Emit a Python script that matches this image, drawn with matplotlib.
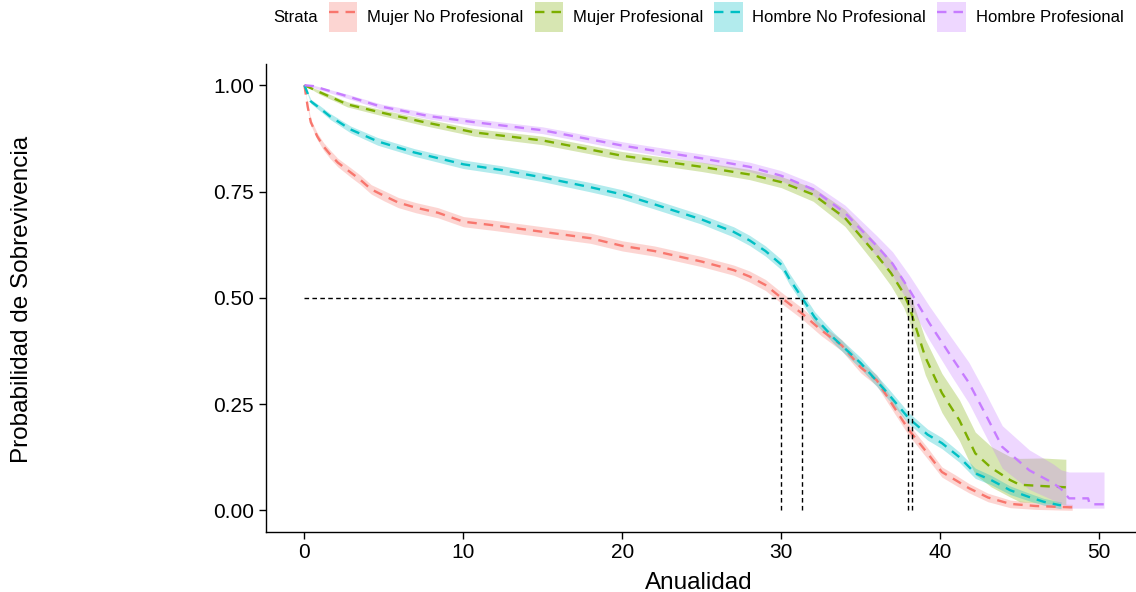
import numpy as np
import matplotlib
matplotlib.use("Agg")
import matplotlib.pyplot as plt
from matplotlib.patches import Patch
from matplotlib.lines import Line2D

plt.rcParams['font.family'] = ['Liberation Sans', 'DejaVu Sans']

labels = ['Mujer No Profesional', 'Mujer Profesional', 'Hombre No Profesional', 'Hombre Profesional']
colors = ['#F8766D', '#7CAE00', '#00BFC4', '#C77CFF']

# Mujer No Profesional
t_mnp = [0, 0.2, 0.4, 0.8, 1.2, 1.6, 2.1, 2.9, 3.5, 4.2, 5.0, 5.9, 7.0, 8.4, 10, 12, 15, 18, 20, 22,
         25, 27, 28, 29, 30, 31.3, 32.5, 33.8, 35, 36, 37.1, 38, 39.2, 40.1, 41, 41.8, 43, 44.4, 46, 48.1, 48.3]
s_mnp = [1.0, .95, .913, .88, .856, .838, .818, .795, .778, .755, .74, .724, .712, .70, .679, .67, .655, .64, .622, .61,
         .585, .565, .55, .53, .5, .463, .424, .388, .336, .306, .242, .19, .134, .09, .07, .052, .03, .015, .01, .007, .007]
e_mnp = [0, .005, .007, .008, .009, .01, .01, .011, .011, .011, .012, .012, .012, .012, .012, .012, .012, .012, .012, .012,
         .012, .012, .013, .013, .013, .013, .013, .013, .013, .013, .013, .013, .013, .012, .012, .011, .01, .009, .008, .007, .007]

# Mujer Profesional
t_mp = [0, 1.0, 2.7, 4.8, 7.3, 10.7, 15, 20, 25, 28, 30, 32, 34, 35.9, 36.9, 37.7, 38.05, 39.05, 40.1, 41.2,
        42.2, 43.2, 44.4, 45.0, 46.4, 47.9]
s_mp = [1.0, .983, .955, .936, .915, .889, .87, .834, .808, .79, .772, .743, .688, .605, .558, .51, .479, .361, .276, .212,
        .134, .10, .071, .06, .057, .054]
up_mp = [0, .005, .006, .007, .008, .009, .01, .01, .011, .012, .013, .016, .02, .026, .03, .033, .036, .042, .046, .048,
         .05, .05, .055, .062, .066, .066]
dn_mp = [0, .005, .006, .007, .008, .009, .01, .01, .011, .012, .013, .016, .02, .026, .03, .033, .036, .042, .046, .048,
         .05, .045, .04, .04, .04, .04]

# Hombre No Profesional
t_hnp = [0, 0.4, 1.0, 1.6, 2.9, 4.6, 6.9, 10, 12.5, 15, 18, 20, 22, 25, 27, 28, 29, 30, 30.5, 31.3,
         32.1, 33.3, 35, 36.7, 38, 39.2, 40.1, 41.2, 42.2, 43.2, 44.4, 45.6, 46.5, 47.5, 47.6]
s_hnp = [1.0, .962, .945, .927, .896, .868, .842, .814, .80, .783, .76, .743, .72, .684, .655, .635, .61, .578, .545, .5,
         .454, .405, .346, .275, .217, .178, .158, .125, .087, .071, .047, .031, .02, .012, .012]
e_hnp = [0, .005, .006, .007, .008, .009, .009, .01, .01, .01, .011, .011, .011, .011, .012, .012, .012, .012, .013, .013,
         .013, .013, .013, .013, .013, .013, .013, .012, .012, .011, .01, .009, .008, .008, .008]

# Hombre Profesional
t_hp = [0, 0.57, 2.7, 4.8, 7.9, 10.7, 15, 20, 25, 28, 30, 32, 34, 36, 37, 38.05, 39.3, 40.7, 41.8, 42.8,
        43.9, 45.6, 47.1, 47.6, 48.1, 49.3, 49.4, 50.3]
s_hp = [1.0, .998, .974, .95, .927, .913, .894, .858, .828, .808, .787, .755, .70, .622, .58, .519, .441, .361, .30, .229,
        .149, .094, .064, .05, .028, .028, .014, .014]
up_hp = [0, .004, .005, .006, .007, .008, .008, .009, .01, .011, .012, .014, .018, .024, .028, .034, .04, .045, .048, .05,
         .05, .048, .045, .045, .062, .062, .076, .076]
dn_hp = [0, .004, .005, .006, .007, .008, .008, .009, .01, .011, .012, .014, .018, .024, .028, .034, .04, .045, .048, .05,
         .05, .045, .04, .035, .023, .023, .009, .009]

# median survival times
medians = [30.0, 31.3, 38.0, 38.2]

series = [
    (t_mnp, s_mnp, e_mnp, e_mnp),
    (t_mp, s_mp, up_mp, dn_mp),
    (t_hnp, s_hnp, e_hnp, e_hnp),
    (t_hp, s_hp, up_hp, dn_hp),
]

W, H = 1136, 592
fig = plt.figure(figsize=(W / 100, H / 100), dpi=100)
ax = fig.add_axes([266 / W, 1 - 531.5 / H, 869 / W, 467.5 / H])

dash = (0, (4, 3))
for (t, s, up, dn), c in zip(series, colors):
    t = np.array(t); s = np.array(s)
    hi = np.clip(s + np.array(up), 0, 1)
    lo = np.clip(s - np.array(dn), 0, 1)
    ax.fill_between(t, lo, hi, color=c, alpha=0.3, lw=0)
for (t, s, up, dn), c in zip(series, colors):
    ax.plot(t, s, color=c, lw=1.7, ls=dash)

mdash = (0, (3.3, 2.4))
ax.hlines(0.5, 0, max(medians), colors='black', linestyles=mdash, lw=1.0)
ax.vlines(medians, 0, 0.5, colors='black', linestyles=mdash, lw=1.0)

ax.set_xlim(-2.42, 52.25)
ax.set_ylim(-0.05, 1.05)
ax.set_xticks([0, 10, 20, 30, 40, 50])
ax.set_yticks([0, 0.25, 0.5, 0.75, 1.0])
ax.set_yticklabels(['0.00', '0.25', '0.50', '0.75', '1.00'])
ax.tick_params(labelsize=15, length=5, width=1, pad=3.5, colors='black')
for side in ['top', 'right']:
    ax.spines[side].set_visible(False)
for side in ['left', 'bottom']:
    ax.spines[side].set_linewidth(1.0)

fig.text(699 / W, 1 - 589 / H, 'Anualidad', ha='center', va='baseline', fontsize=17.5)
fig.text(22 / W, 1 - 299 / H, 'Probabilidad de Sobrevivencia', ha='center', va='center',
         rotation=90, fontsize=17.5)

# legend
handles = [(Patch(facecolor=c, alpha=0.3, edgecolor='none'), Line2D([], [], color=c, lw=1.7, ls=dash))
           for c in colors]
fig.text(273 / W, 1 - 18 / H, 'Strata', ha='left', va='center', fontsize=12)
fig.legend(handles, labels, loc='center left', bbox_to_anchor=(329 / W, 1 - 17 / H), ncol=4,
           frameon=False, fontsize=12, handlelength=1.7, handleheight=2.4, handletextpad=0.6,
           columnspacing=0.66, borderpad=0, borderaxespad=0)

fig.savefig('out.png', dpi=100)
